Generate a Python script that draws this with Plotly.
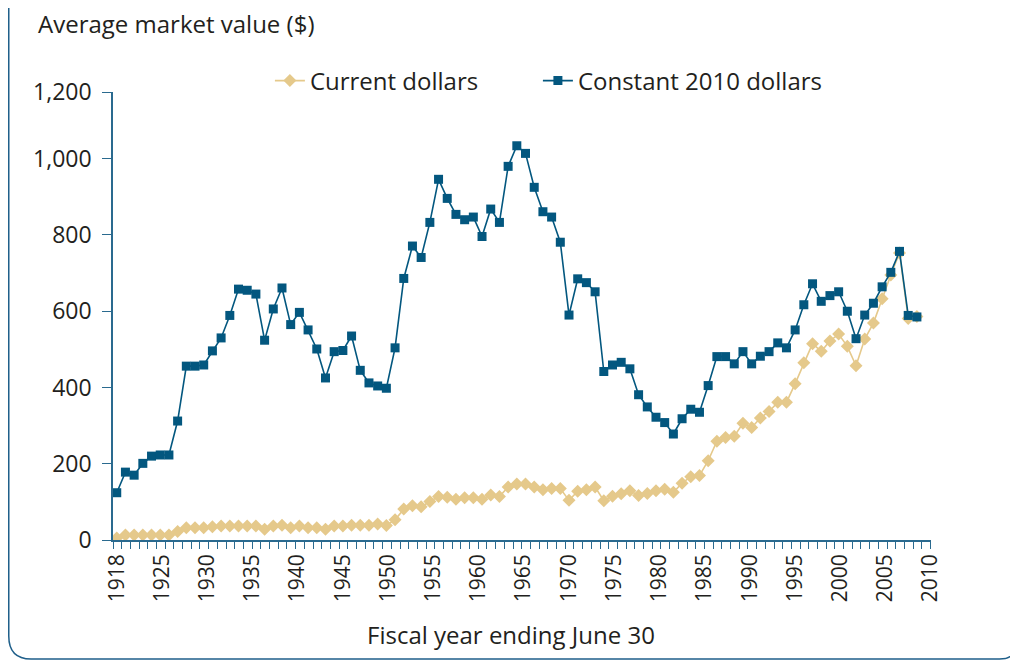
import numpy as np
import plotly.graph_objects as go

years = list(range(1918, 2011))

constant_2010 = [
    124, 178, 170, 201, 220, 223, 223, 312, 456, 456,
    459, 496, 530, 589, 658, 655, 645, 524, 606, 661,
    565, 597, 551, 501, 425, 494, 497, 535, 445, 412,
    404, 398, 504, 686, 771, 741, 833, 946, 896, 854,
    840, 847, 796, 868, 833, 980, 1034, 1014, 925, 861,
    847, 781, 590, 685, 675, 651, 442, 459, 466, 449,
    381, 349, 322, 308, 278, 318, 343, 335, 405, 481,
    481, 462, 494, 462, 482, 494, 517, 504, 551, 617,
    672, 626, 641, 651, 600, 528, 590, 621, 664, 702,
    757, 589, 585,
]

current = [
    5, 13, 13, 13, 13, 13, 13, 22, 32, 32,
    32, 35, 37, 37, 37, 37, 37, 28, 37, 39,
    32, 37, 32, 32, 28, 37, 37, 39, 39, 39,
    42, 38, 53, 81, 90, 87, 101, 114, 112, 107,
    111, 111, 107, 118, 114, 139, 147, 147, 139, 132,
    135, 135, 104, 128, 132, 139, 103, 115, 121, 129,
    117, 122, 129, 133, 125, 149, 166, 169, 208, 259,
    269, 272, 306, 295, 320, 337, 361, 361, 410, 465,
    515, 495, 522, 540, 508, 457, 527, 569, 633, 695,
    753, 581, 586,
]

x_tick_labels = ["1918", "1925", "1930", "1935", "1940", "1945", "1950", "1955",
                 "1960", "1965", "1970", "1975", "1980", "1985", "1990", "1995",
                 "2000", "2005", "2010"]
y_tick_values = [0, 200, 400, 600, 800, 1000, 1175]
y_tick_labels = ["0", "200", "400", "600", "800", "1,000", "1,200"]

BLUE = "#03577F"
TAN = "#E5C98B"
AXIS = "#2A6A8F"
TEXT = "#231F20"
FONT = "Open Sans"

x_lo, x_hi = 1917.57, 2011.62
label_pos = list(np.linspace(1918, x_hi - 0.05, len(x_tick_labels)))

fig = go.Figure()
fig.add_trace(go.Scatter(
    x=years, y=current, name="Current dollars", mode="lines+markers",
    line=dict(color=TAN, width=1.6),
    marker=dict(symbol="diamond", size=10, color=TAN),
    legendwidth=223,
))
fig.add_trace(go.Scatter(
    x=years, y=constant_2010, name="Constant 2010 dollars", mode="lines+markers",
    line=dict(color=BLUE, width=1.6),
    marker=dict(symbol="square", size=9, color=BLUE),
    legendwidth=300,
))

# the page body adds an 8px offset; work in page pixels and convert
OFF = 8
W, H = 1018 - OFF, 660 - OFF
PL, PR, PT, PB = 113, 931.5, 92, 540  # plot area in page pixels
L, R, T, B = PL - OFF, (W + OFF) - PR, PT - OFF, (H + OFF) - PB
pw, ph = PR - PL, PB - PT


def px_x(p):
    return (p - PL) / pw


def px_y(p):
    return (PB - p) / ph


fig.update_layout(
    width=W, height=H,
    margin=dict(l=L, r=R, t=T, b=B, pad=0),
    paper_bgcolor="white", plot_bgcolor="white",
    font=dict(family=FONT, color=TEXT, size=23),
    title=dict(
        text="Average market value ($)", font=dict(size=24, color=TEXT),
        xref="container", x=(38 - OFF) / W, xanchor="left",
        yref="container", y=1 - (25 - OFF) / H, yanchor="middle",
    ),
    showlegend=True,
    legend=dict(
        orientation="h", x=px_x(270), y=px_y(81), xanchor="left", yanchor="middle",
        font=dict(size=24, color=TEXT), entrywidthmode="pixels",
        bgcolor="rgba(0,0,0,0)",
    ),
    xaxis=dict(
        range=[x_lo, x_hi], showgrid=False, zeroline=False,
        showline=True, linecolor=AXIS, linewidth=1.5,
        tickmode="array", tickvals=label_pos, ticktext=x_tick_labels,
        ticks="", tickangle=-90, tickfont=dict(size=21, color=TEXT),
        ticklabelstandoff=4,
        minor=dict(ticks="outside", tick0=x_lo, dtick=1, ticklen=7,
                   tickcolor=AXIS, tickwidth=1.3, showgrid=False),
    ),
    yaxis=dict(
        range=[0, 1175], showgrid=False, zeroline=False,
        showline=True, linecolor=AXIS, linewidth=1.5,
        tickmode="array", tickvals=y_tick_values, ticktext=y_tick_labels,
        ticks="outside", ticklen=9, tickcolor=AXIS, tickwidth=1.3,
        tickfont=dict(size=23, color=TEXT), ticklabelstandoff=6,
    ),
    annotations=[
        dict(
            text="Fiscal year ending June 30", xref="paper", yref="paper",
            x=px_x(511.5), y=px_y(634), xanchor="center", yanchor="middle",
            showarrow=False, font=dict(size=24, color=TEXT),
        ),
    ],
    shapes=[dict(
        type="path", xref="paper", yref="paper",
        path=(f"M {px_x(8.7)},{px_y(-5)} L {px_x(8.7)},{px_y(636)} "
              f"Q {px_x(8.7)},{px_y(659)} {px_x(31)},{px_y(659)} "
              f"L {px_x(1000)},{px_y(659)} Q {px_x(1012)},{px_y(659)} {px_x(1014)},{px_y(652)}"),
        line=dict(color="#1F5F8A", width=1.5),
    )],
)

fig.write_html("out.html")
